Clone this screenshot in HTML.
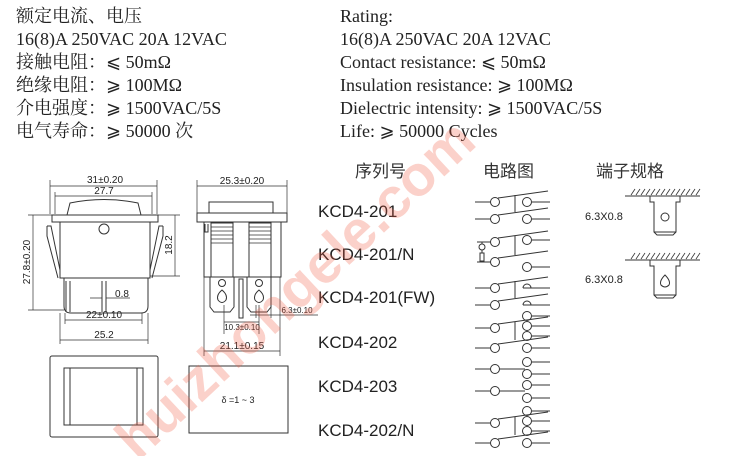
<!DOCTYPE html>
<html><head><meta charset="utf-8"><style>
html,body{margin:0;padding:0;background:#fff;width:755px;height:456px;overflow:hidden;}
svg{display:block;}
.s{font-family:"Liberation Serif","Noto Serif CJK SC",serif;font-size:18px;fill:#222;}
.c{font-family:"Liberation Sans","Noto Sans CJK SC",sans-serif;}
</style></head><body>
<svg width="755" height="456" viewBox="0 0 755 456" xmlns="http://www.w3.org/2000/svg" style="overflow:hidden">
<g class="s">
<text x="16" y="22">额定电流、电压</text>
<text x="16" y="45">16(8)A 250VAC 20A 12VAC</text>
<text x="16" y="68">接触电阻：⩽ 50mΩ</text>
<text x="16" y="91">绝缘电阻：⩾ 100MΩ</text>
<text x="16" y="114">介电强度：⩾ 1500VAC/5S</text>
<text x="16" y="137">电气寿命：⩾ 50000 次</text>
<text x="340" y="22">Rating:</text>
<text x="340" y="45">16(8)A 250VAC 20A 12VAC</text>
<text x="340" y="68">Contact resistance: ⩽ 50mΩ</text>
<text x="340" y="91">Insulation resistance: ⩾ 100MΩ</text>
<text x="340" y="114">Dielectric intensity: ⩾ 1500VAC/5S</text>
<text x="340" y="137">Life: ⩾ 50000 Cycles</text>
</g>
<g class="c" font-size="17" fill="#333">
<text x="355" y="177">序列号</text>
<text x="483" y="177">电路图</text>
<text x="596" y="177">端子规格</text>
</g>
<g class="c" font-size="17" fill="#222">
<text x="318" y="217">KCD4-201</text>
<text x="318" y="260">KCD4-201/N</text>
<text x="318" y="303">KCD4-201(FW)</text>
<text x="318" y="348">KCD4-202</text>
<text x="318" y="392">KCD4-203</text>
<text x="318" y="436">KCD4-202/N</text>
</g>

<g fill="none" stroke="#333" stroke-width="1">
<rect x="52" y="215" width="106" height="7" fill="#fff"/>
<path d="M67 215 L70 203 Q104 196 138 203 L141 215"/>
<rect x="60" y="222" width="90" height="56"/>
<circle cx="104" cy="229" r="5"/>
<path d="M64 278 V306 Q64 313 71 313 H141 Q148 313 148 306 V278"/>
<path d="M47 226 L51 226 L60 270 M47 226 L47 236 L58 278"/>
<path d="M163 226 L159 226 L150 270 M163 226 L163 236 L152 278"/>
<path d="M66 281 V312 M70 281 V312 M102 281 V312 M106 281 V312"/>
<path d="M50 186 H157 M50 180 V214 M157 180 V214" stroke-width="0.7"/>
<path d="M55 196 H152 M55 192 V214 M152 192 V214" stroke-width="0.7"/>
<path d="M33 215 V310 M28 215 H52 M28 310 H64" stroke-width="0.7"/>
<path d="M175 215 V276 M158 215 H180 M150 276 H180" stroke-width="0.7"/>
<path d="M65 320 H142 M65 313 V324 M142 313 V324" stroke-width="0.7"/>
<path d="M60 340 H148 M60 313 V344 M148 313 V344" stroke-width="0.7"/>
<path d="M90 298 H102 M106 298 H130" stroke-width="0.7"/>
<rect x="209" y="202" width="64" height="11"/>
<rect x="197" y="213" width="90" height="9" fill="#fff"/>
<rect x="204" y="222" width="77" height="55"/>
<rect x="211" y="223" width="22" height="54"/>
<rect x="249" y="223" width="22" height="54"/>
<path d="M211 227 H233 M211 231 H233 M211 235 H233 M211 239 H233 M249 227 H271 M249 231 H271 M249 235 H271 M249 239 H271 M211 243 H233 M249 243 H271" stroke-width="0.8"/>
<path d="M205 224 V232 H208 V224"/>
<path d="M210 277 V307 L214 312 H230 L234 307 V277"/>
<path d="M247 277 V307 L251 312 H267 L271 307 V277"/>
<circle cx="222" cy="283" r="3.5"/><circle cx="259" cy="283" r="3.5"/>
<path d="M222 290 Q216 295 218 300 Q222 305 226 300 Q228 295 222 290Z"/>
<path d="M259 290 Q253 295 255 300 Q259 305 263 300 Q265 295 259 290Z"/>
<rect x="239" y="279" width="4" height="39"/>
<path d="M197 186 H287 M197 180 V213 M287 180 V213" stroke-width="0.7"/>
<path d="M204 351 H280 M204 277 V356 M280 277 V356" stroke-width="0.7"/>
<path d="M224 322 H259 M224 305 V334 M259 305 V334" stroke-width="0.7"/>
<path d="M250 315 H318 M256 305 V318 M271 305 V318" stroke-width="0.7"/>
<rect x="50" y="356" width="108" height="81" rx="2"/>
<rect x="64" y="368" width="79" height="57"/>
<path d="M70 368 V425 M137 368 V425"/>
<rect x="189" y="366" width="99" height="67"/>
<path d="M625 196 H700 M625 260 H700"/>
<path d="M631 195 l4 -6 M636 195 l4 -6 M641 195 l4 -6 M646 195 l4 -6 M651 195 l4 -6 M656 195 l4 -6 M661 195 l4 -6 M666 195 l4 -6 M671 195 l4 -6 M676 195 l4 -6 M681 195 l4 -6 M686 195 l4 -6 M691 195 l4 -6 M696 195 l4 -6" stroke-width="0.8"/>
<path d="M631 259 l4 -6 M636 259 l4 -6 M641 259 l4 -6 M646 259 l4 -6 M651 259 l4 -6 M656 259 l4 -6 M661 259 l4 -6 M666 259 l4 -6 M671 259 l4 -6 M676 259 l4 -6 M681 259 l4 -6 M686 259 l4 -6 M691 259 l4 -6 M696 259 l4 -6" stroke-width="0.8"/>
<path d="M650 196 V202 H654 V232 L657 235 H673 L676 232 V202 H680 V196"/>
<path d="M654 232 H676"/>
<circle cx="665" cy="217" r="4"/>
<path d="M650 260 V266 H654 V295 L657 298 H673 L676 295 V266 H680 V260"/>
<path d="M654 295 H676"/>
<path d="M665 275 Q659 281 661 285 Q665 289 669 285 Q671 281 665 275Z"/>
<g stroke-width="1">
<path d="M475 202 H491 M475 219 H491 M532 202 H550 M532 219 H550 M498 198 L548 191 M498 215 L548 208 M515 195 V212"/>
<circle cx="495" cy="202" r="4.5"/><circle cx="495" cy="219" r="4.5"/><circle cx="527" cy="202" r="4.5"/><circle cx="527" cy="219" r="4.5"/>
<path d="M477 242 H491 M477 262 H491 M532 240 H550 M532 267 H550 M498 238 L548 231 M498 258 L548 251 M515 236 V255 M482 242 V244 M482 250 V253 M482 261 V262"/>
<circle cx="482" cy="247" r="3"/><rect x="480" y="253" width="4" height="8"/>
<circle cx="495" cy="242" r="4.5"/><circle cx="495" cy="262" r="4.5"/><circle cx="527" cy="240" r="4.5"/><circle cx="527" cy="267" r="4.5"/>
<path d="M475 288 H491 M475 305 H491 M523 288 H550 M523 305 H550 M498 284 L548 277 M498 301 L548 294 M515 281 V298 M523 288 A4 4 0 0 1 531 288 M523 305 A4 4 0 0 1 531 305"/>
<circle cx="495" cy="288" r="4.5"/><circle cx="495" cy="305" r="4.5"/>
<path d="M475 328 H491 M475 348 H491 M532 316 H550 M532 326 H550 M532 336 H550 M532 348 H550 M498 324 L548 317 M498 344 L548 337 M515 322 V340"/>
<circle cx="495" cy="328" r="4.5"/><circle cx="495" cy="348" r="4.5"/><circle cx="527" cy="316" r="4.5"/><circle cx="527" cy="326" r="4.5"/><circle cx="527" cy="336" r="4.5"/><circle cx="527" cy="348" r="4.5"/>
<path d="M475 369 H491 M475 391 H491 M499 369 H525 M499 391 H525 M532 362 H550 M532 374 H550 M532 385 H550 M532 398 H550"/>
<circle cx="495" cy="369" r="4.5"/><circle cx="495" cy="391" r="4.5"/><circle cx="527" cy="362" r="4.5"/><circle cx="527" cy="374" r="4.5"/><circle cx="527" cy="385" r="4.5"/><circle cx="527" cy="398" r="4.5"/>
<path d="M475 423 H491 M475 443 H491 M532 411 H550 M532 421 H550 M532 431 H550 M532 443 H550 M498 419 L548 412 M498 439 L548 432 M515 417 V435"/>
<circle cx="495" cy="423" r="4.5"/><circle cx="495" cy="443" r="4.5"/><circle cx="527" cy="411" r="4.5"/><circle cx="527" cy="421" r="4.5"/><circle cx="527" cy="431" r="4.5"/><circle cx="527" cy="443" r="4.5"/>
</g>
</g>
<g class="c" fill="#222" font-size="10">
<text x="105" y="183" text-anchor="middle">31±0.20</text>
<text x="104" y="194" text-anchor="middle">27.7</text>
<text x="30" y="262" text-anchor="middle" transform="rotate(-90 30 262)">27.8±0.20</text>
<text x="172" y="245" text-anchor="middle" transform="rotate(-90 172 245)">18.2</text>
<text x="122" y="297" text-anchor="middle">0.8</text>
<text x="104" y="318" text-anchor="middle">22±0.10</text>
<text x="104" y="338" text-anchor="middle">25.2</text>
<text x="242" y="184" text-anchor="middle">25.3±0.20</text>
<text x="242" y="349" text-anchor="middle">21.1±0.15</text>
<text x="242" y="330" text-anchor="middle" font-size="8">10.3±0.10</text>
<text x="297" y="313" text-anchor="middle" font-size="8">6.3±0.10</text>
<text x="238" y="403" text-anchor="middle" font-size="9">δ =1 ~ 3</text>
<text x="585" y="220" font-size="11">6.3X0.8</text>
<text x="585" y="283" font-size="11">6.3X0.8</text>
</g>
<text class="c" x="0" y="0" font-size="57" font-weight="bold" fill="#f05a40" fill-opacity="0.28" transform="translate(138 462) rotate(-43)">huizhongele.com</text>
</svg>
</body></html>
